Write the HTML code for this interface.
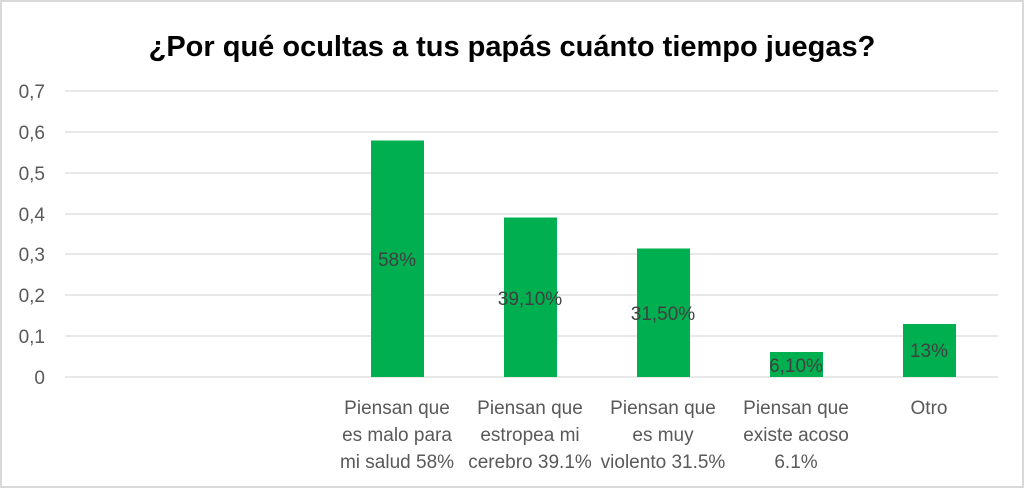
<!DOCTYPE html>
<html><head><meta charset="utf-8"><style>
html,body{margin:0;padding:0;background:#fff;}
svg{display:block;font-family:"Liberation Sans",sans-serif;}
</style></head><body>
<svg width="1024" height="488" viewBox="0 0 1024 488" xmlns="http://www.w3.org/2000/svg">
<rect x="1" y="1" width="1022" height="486" fill="#fff" stroke="#d9d9d9" stroke-width="2"/>
<text x="512" y="56" text-anchor="middle" font-size="29" font-weight="bold" fill="#000">¿Por qué ocultas a tus papás cuánto tiempo juegas?</text>
<g stroke="#d9d9d9" stroke-width="1.3">
<line x1="65" x2="998" y1="91" y2="91"/><line x1="65" x2="998" y1="132" y2="132"/>
<line x1="65" x2="998" y1="173" y2="173"/><line x1="65" x2="998" y1="214" y2="214"/>
<line x1="65" x2="998" y1="254" y2="254"/><line x1="65" x2="998" y1="295" y2="295"/>
<line x1="65" x2="998" y1="336" y2="336"/><line x1="65" x2="998" y1="377" y2="377"/>
</g>
<g font-size="19" fill="#595959" text-anchor="end">
<text x="45" y="98">0,7</text><text x="45" y="139">0,6</text><text x="45" y="180">0,5</text>
<text x="45" y="221">0,4</text><text x="45" y="261">0,3</text><text x="45" y="302">0,2</text>
<text x="45" y="343">0,1</text><text x="45" y="384">0</text>
</g>
<g fill="#00b050">
<rect x="371" y="140.5" width="53" height="236.5"/>
<rect x="504" y="217.5" width="53" height="159.5"/>
<rect x="637" y="248.5" width="53" height="128.5"/>
<rect x="770" y="352" width="53" height="25"/>
<rect x="903" y="324" width="53" height="53"/>
</g>
<g font-size="19" fill="#404040" text-anchor="middle">
<text x="397" y="266">58%</text>
<text x="530" y="305">39,10%</text>
<text x="663" y="320">31,50%</text>
<text x="796" y="372">6,10%</text>
<text x="929" y="357">13%</text>
</g>
<g font-size="19" fill="#595959" text-anchor="middle">
<text x="397" y="414">Piensan que</text><text x="397" y="441">es malo para</text><text x="397" y="468">mi salud 58%</text>
<text x="530" y="414">Piensan que</text><text x="530" y="441">estropea mi</text><text x="530" y="468">cerebro 39.1%</text>
<text x="663" y="414">Piensan que</text><text x="663" y="441">es muy</text><text x="663" y="468">violento 31.5%</text>
<text x="796" y="414">Piensan que</text><text x="796" y="441">existe acoso</text><text x="796" y="468">6.1%</text>
<text x="929" y="414">Otro</text>
</g>
</svg>
</body></html>
